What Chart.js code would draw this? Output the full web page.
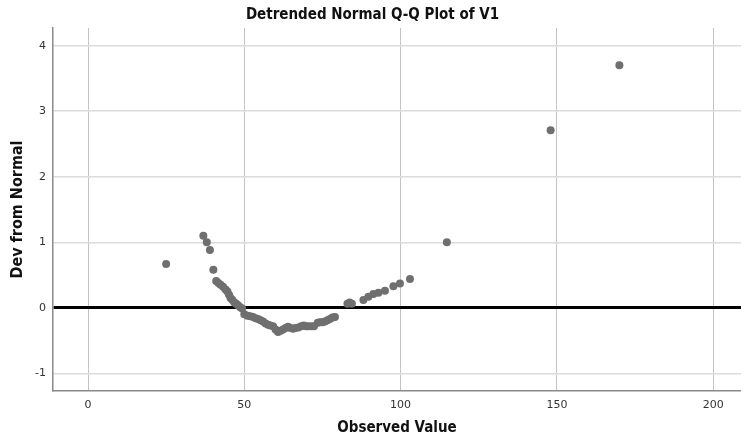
<!DOCTYPE html>
<html>
<head>
<meta charset="utf-8">
<script src="https://cdn.jsdelivr.net/npm/chart.js@4/dist/chart.umd.min.js"></script>
<style>
  html,body{margin:0;padding:0;background:#fff;overflow:hidden;}
  #wrap{width:745px;height:440px;}
</style>
</head>
<body>
<div id="wrap"><canvas id="qq" width="745" height="440"></canvas></div>
<script>
let observed = [25, 36.9, 38, 39, 40.1, 41, 41.7, 42.4, 43.2, 44, 44.6, 45.1, 45.6, 46.2, 46.8, 47.4, 48, 48.7, 49.3, 50,
  51, 51.9, 52.8, 53.6, 54.4, 55.2, 56, 56.8, 57.6, 58.3, 59.2, 60, 60.8, 61.6, 62.4, 63.2, 64, 64.8, 65.6, 66.4,
  67.3, 68.2, 69, 69.8, 70.6, 71.5, 72.3, 73.5, 74.2, 75, 75.8, 76.6, 77.4, 78.2, 79, 83, 83.7, 84.4, 88.1, 89.7,
  91.3, 92.9, 95, 97.7, 99.8, 103, 114.8, 148, 170];
let devNormal = [0.67, 1.10, 1.00, 0.88, 0.58, 0.41, 0.38, 0.35, 0.32, 0.28, 0.25, 0.20, 0.15, 0.12, 0.08, 0.06, 0.04, 0.01, -0.01, -0.10,
  -0.12, -0.13, -0.14, -0.16, -0.17, -0.19, -0.21, -0.24, -0.26, -0.27, -0.28, -0.33, -0.37, -0.35, -0.33, -0.31, -0.29, -0.31, -0.32, -0.31,
  -0.30, -0.28, -0.27, -0.28, -0.28, -0.28, -0.28, -0.23, -0.22, -0.22, -0.21, -0.19, -0.17, -0.15, -0.14, 0.06, 0.08, 0.06, 0.12, 0.17,
  0.21, 0.23, 0.26, 0.33, 0.37, 0.44, 1.00, 2.71, 3.70];
let xTicks = [0, 50, 100, 150, 200];
let yTicks = [-1, 0, 1, 2, 3, 4];

let pts = observed.map((v,i)=>({x:v, y:devNormal[i]}));
let narrow = "'Liberation Sans Narrow','DejaVu Sans Condensed',sans-serif";

new Chart(document.getElementById('qq'),{
  type:'scatter',
  data:{ datasets:[{ data:pts, backgroundColor:'#6f6f6f', borderWidth:0, pointRadius:4, pointHoverRadius:4 }] },
  options:{
    responsive:false, animation:false,
    layout:{padding:0},
    plugins:{
      legend:{display:false}, tooltip:{enabled:false},
      title:{display:true, text:'Detrended Normal Q-Q Plot of V1', color:'#111',
        font:{family:narrow, size:15, weight:'bold', lineHeight:1.2}, padding:{top:6, bottom:4}}
    },
    scales:{
      x:{
        type:'linear', min:-11.2, max:208.9,
        afterBuildTicks:s=>{ s.ticks = xTicks.map(v=>({value:v})); },
        afterFit:s=>{ s.height = 49; s.paddingRight = 0; s.paddingLeft = 0; },
        grid:{color:'#c4c4c4', lineWidth:1, drawTicks:false},
        border:{color:'#8a8a8a', width:1.5},
        ticks:{padding:8, color:'#333', font:{family:'DejaVu Sans', size:11}},
        title:{display:true, text:'Observed Value', color:'#111',
          font:{family:narrow, size:15, weight:'bold', lineHeight:1.2}, padding:{top:0, bottom:3}}
      },
      y:{
        type:'linear', min:-1.27, max:4.27,
        afterBuildTicks:s=>{ s.ticks = yTicks.map(v=>({value:v})); },
        afterFit:s=>{ s.width = 53; },
        grid:{
          color:c=> c.tick && c.tick.value===0 ? '#000' : '#dcdcdc',
          lineWidth:c=> c.tick && c.tick.value===0 ? 3 : 1.5,
          drawTicks:false
        },
        border:{color:'#8a8a8a', width:1.5},
        ticks:{padding:7, color:'#333', font:{family:'DejaVu Sans', size:11}},
        title:{display:true, text:'Dev from Normal', color:'#111',
          font:{family:narrow, size:16, weight:'bold', lineHeight:1.2}, padding:{top:8, bottom:0}}
      }
    }
  }
});
</script>
</body>
</html>
